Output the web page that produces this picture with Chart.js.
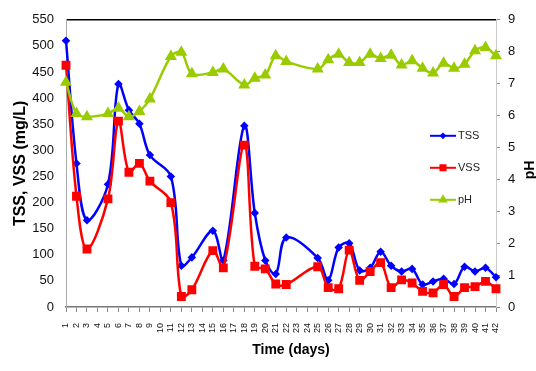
<!DOCTYPE html>
<html>
<head>
<meta charset="utf-8">
<script src="https://cdn.jsdelivr.net/npm/chart.js@4.4.0/dist/chart.umd.min.js"></script>
<style>
  html, body { margin: 0; padding: 0; background: #fff; }
</style>
</head>
<body>
<canvas id="sludgeChart" width="536" height="371"></canvas>
<script>
// sampling days (category axis)
const days = ['1','2','3','4','5','6','7','8','9','10','11','12','13','14','15','16','17','18','19','20','21',
              '22','23','24','25','26','27','28','29','30','31','32','33','34','35','36','37','38','39','40','41','42'];

// TSS / VSS in mg/L, null = no sample that day
const tss = [510, 275, 166, null, 235, 427, 377, 351, 291, null, 250, 79, 95, null, 146, 89, null, 347, 180, 89, 63,
             133, null, null, 94, 51, 114, 122, 70, 75, 106, 79, 68, 73, 43, 49, 54, 44, 77, 68, 75, 57];
const vss = [463, 212, 111, null, 207, 356, 258, 275, 241, null, 200, 20, 33, null, 108, 75, null, 310, 78, 73, 44,
             43, null, null, 77, 37, 35, 109, 51, 68, 85, 37, 52, 46, 30, 27, 43, 20, 37, 39, 49, 35];
// pH (right axis)
const ph = [7.04, 6.06, 5.96, null, 6.06, 6.23, 5.96, 6.13, 6.52, null, 7.85, 7.98, 7.31, null, 7.35, 7.46, null, 6.96, 7.17, 7.27, 7.87,
            7.69, null, null, 7.46, 7.75, 7.92, 7.66, 7.66, 7.92, 7.79, 7.89, 7.58, 7.72, 7.48, 7.33, 7.64, 7.48, 7.61, 8.03, 8.13, 7.87];

const FONT = '"Liberation Sans", Arial, sans-serif';

// legend inside the plot + axis titles for x and pH
const extras = {
    id: 'extras',
    afterDraw(chart) {
        const { ctx, chartArea } = chart;
        ctx.save();
        const x0 = chartArea.left + 364;
        let y = chartArea.top + 116;
        chart.data.datasets.forEach(ds => {
            ctx.strokeStyle = ds.borderColor;
            ctx.fillStyle = ds.backgroundColor;
            ctx.lineWidth = 2;
            ctx.beginPath();
            ctx.moveTo(x0, y);
            ctx.lineTo(x0 + 26, y);
            ctx.stroke();
            Chart.helpers.drawPoint(ctx, {
                pointStyle: ds.pointStyle, rotation: 0,
                radius: ds.pointRadius * 0.8, borderWidth: 1
            }, x0 + 13, y);
            ctx.fillStyle = '#222';
            ctx.font = '11px ' + FONT;
            ctx.textAlign = 'left';
            ctx.textBaseline = 'middle';
            ctx.fillText(ds.label, x0 + 28, y);
            y += 32;
        });

        ctx.fillStyle = '#000';
        ctx.font = 'bold 14px ' + FONT;
        ctx.textAlign = 'center';
        ctx.textBaseline = 'middle';
        ctx.fillText('Time (days)', 291, 350);

        ctx.translate(530, 170);
        ctx.rotate(-Math.PI / 2);
        ctx.fillText('pH', 0, 0);
        ctx.restore();
    }
};

const ctx = document.getElementById('sludgeChart').getContext('2d');
const sludgeChart = new Chart(ctx, {
    type: 'line',
    data: {
        labels: days,
        datasets: [{
            label: 'TSS',
            data: tss,
            yAxisID: 'y',
            borderColor: '#0000ff',
            backgroundColor: '#0000ff',
            borderWidth: 2.5,
            pointStyle: 'rectRot',
            pointRadius: 2.5,
            tension: 0.35,
            spanGaps: true,
            order: 3
        }, {
            label: 'VSS',
            data: vss,
            yAxisID: 'y',
            borderColor: '#ff0000',
            backgroundColor: '#ff0000',
            borderWidth: 2.5,
            pointStyle: 'rect',
            pointRadius: 4.5,
            tension: 0.35,
            spanGaps: true,
            order: 2
        }, {
            label: 'pH',
            data: ph,
            yAxisID: 'y1',
            borderColor: '#99cc00',
            backgroundColor: '#99cc00',
            borderWidth: 2.5,
            pointStyle: 'triangle',
            pointRadius: 4.5,
            tension: 0.35,
            spanGaps: true,
            order: 1
        }]
    },
    options: {
        responsive: false,
        animation: false,
        devicePixelRatio: 1,
        layout: { padding: { top: 17, bottom: 8, left: 0, right: 0 } },
        plugins: {
            legend: { display: false },
            tooltip: { enabled: false }
        },
        scales: {
            x: {
                type: 'category',
                offset: false,
                afterFit: s => { s.height = 56; },
                border: { color: '#777', width: 1.5 },
                grid: { drawOnChartArea: false, tickLength: 5, color: '#888' },
                ticks: {
                    autoSkip: false, minRotation: 90, maxRotation: 90,
                    padding: 11, color: '#111', font: { family: FONT, size: 9 }
                }
            },
            y: {
                position: 'left',
                min: 0, max: 550,
                afterFit: s => { s.width = 66; },
                border: { color: '#aaa' },
                grid: {
                    drawTicks: false,
                    color: c => c.tick.value === 550 ? '#000' : 'rgba(0,0,0,0)',
                    lineWidth: 1.5
                },
                ticks: { stepSize: 50, padding: 12, color: '#111', font: { family: FONT, size: 13 } },
                title: {
                    display: true, text: 'TSS, VSS (mg/L)', color: '#000',
                    font: { family: FONT, size: 16, weight: 'bold' },
                    padding: { top: 11, bottom: 0 }
                }
            },
            y1: {
                position: 'right',
                min: 0, max: 9,
                afterFit: s => { s.width = 40; },
                border: { color: '#ccc' },
                grid: { drawOnChartArea: false, tickLength: 4, color: '#888' },
                ticks: { stepSize: 1, padding: 8, color: '#111', font: { family: FONT, size: 13 } }
            }
        }
    },
    plugins: [extras]
});
</script>
</body>
</html>
